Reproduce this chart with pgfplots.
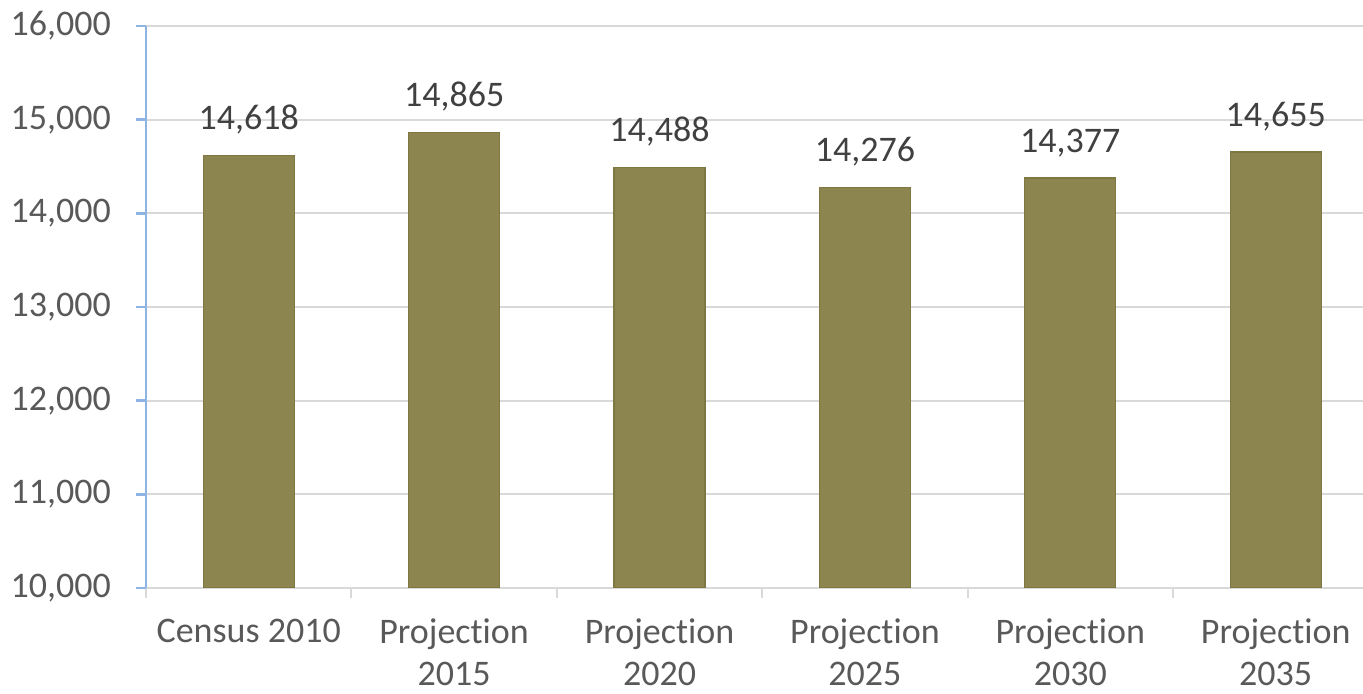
\documentclass[border=0pt]{standalone}
\usepackage{pgfplots}
\pgfplotsset{compat=1.18}
\usepackage{fontspec}
\setmainfont{Carlito}[Ligatures=NoCommon]
\definecolor{barfill}{HTML}{8C8550}
\definecolor{bardraw}{HTML}{7E7741}
\definecolor{gridgray}{HTML}{D9D9D9}
\definecolor{axisblue}{HTML}{8EB4E3}
\definecolor{ticktext}{HTML}{595959}
\definecolor{labeltext}{HTML}{404040}
\begin{document}
\begin{tikzpicture}
\useasboundingbox (-73pt,-53pt) rectangle (608.5pt,294pt);
\begin{axis}[
  at={(0,0)}, anchor=south west,
  scale only axis, width=608.5pt, height=281pt,
  xmin=-0.5, xmax=5.425, ymin=10000, ymax=16000,
  ytick={10000,11000,...,16000},
  scaled y ticks=false,
  xtick={0,1,2,3,4,5},
  xticklabels={Census 2010,{Projection\\2015},{Projection\\2020},{Projection\\2025},{Projection\\2030},{Projection\\2035}},
  minor xtick={-0.5,0.5,1.5,2.5,3.5,4.5},
  axis x line*=bottom, axis y line*=left,
  x axis line style={color=gridgray, line width=1pt},
  y axis line style={color=axisblue, line width=1.3pt},
  tick align=outside,
  major tick length=5pt, minor tick length=5pt,
  major x tick style={draw=none},
  minor x tick style={draw=gridgray, line width=1pt},
  ytick style={draw=axisblue, line width=1.3pt},
  ymajorgrids, grid style={gridgray, line width=1pt},
  font=\fontsize{18pt}{21pt}\selectfont,
  ticklabel style={font=\fontsize{18pt}{21pt}\selectfont, text=ticktext},
  xticklabel style={align=center, yshift=-7pt},
  yticklabel style={xshift=-9pt},
  /pgf/number format/1000 sep={,},
  /pgf/number format/assume math mode=true,
  /pgf/number format/fixed,
  /pgf/number format/precision=0,
  nodes near coords,
  nodes near coords style={text=labeltext, anchor=south, yshift=7pt, font=\fontsize{18pt}{21pt}\selectfont},
  ybar, bar width=45.5pt,
]
\addplot[fill=barfill, draw=bardraw, line width=0.6pt] coordinates {
  (0,14618) (1,14865) (2,14488) (3,14276) (4,14377) (5,14655)
};
\end{axis}
\end{tikzpicture}
\end{document}
